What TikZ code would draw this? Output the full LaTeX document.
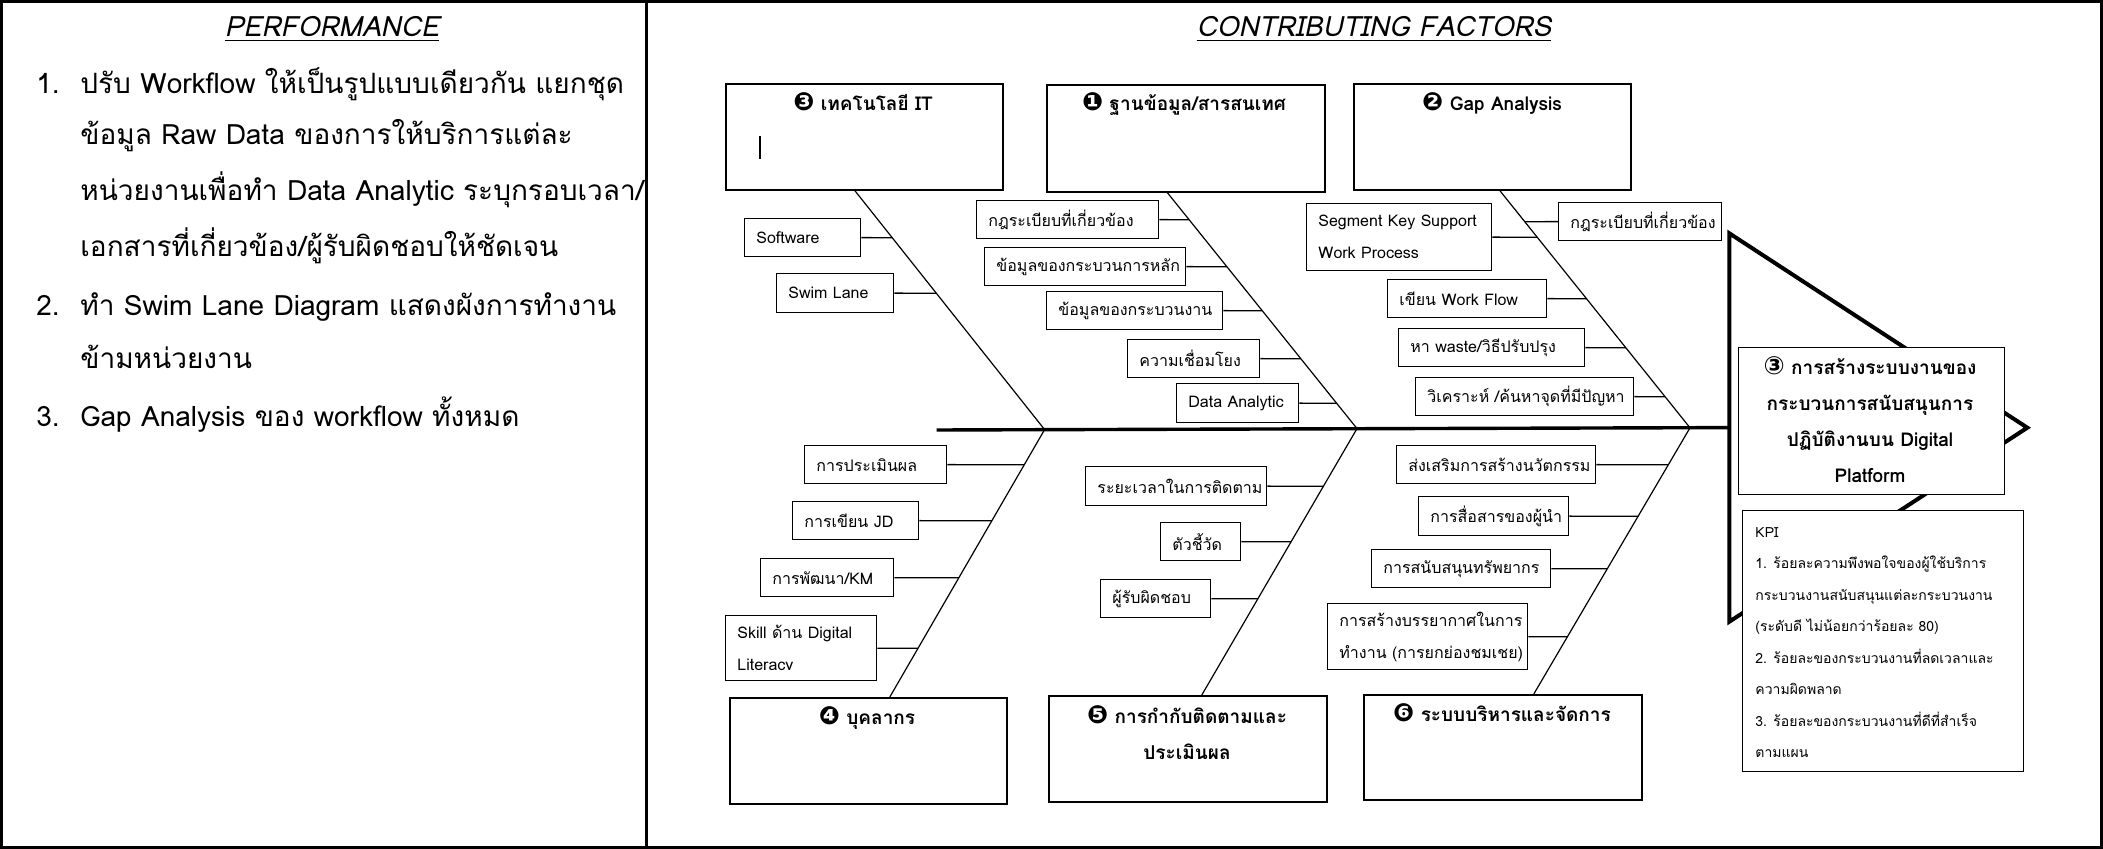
\documentclass[tikz,border=0pt]{standalone}
\usepackage{fontspec}
\setmainfont[Script=Thai]{Loma}
\newfontfamily\sym{DejaVu Sans}
\usetikzlibrary{calc}

\newcommand\cnum[1]{{\sym\fontsize{12.5}{12.5}\selectfont #1}}
\newcommand\mkbox[6]{%
  \pgfmathsetmacro\bw{(#4-#2)*0.5}%
  \pgfmathsetmacro\bh{(#5-#3)*0.5}%
  \node[subframe, minimum width=\bw pt, minimum height=\bh pt, anchor=north west] (#1) at (#2,#3) {};
  \node[subtext] (#1t) at ([xshift=6pt]#1.west) {#6};}
\newcommand\catbox[5]{%
  \pgfmathsetmacro\bw{(#4-#2)*0.5}%
  \pgfmathsetmacro\bh{(#5-#3)*0.5}%
  \node[catframe, minimum width=\bw pt, minimum height=\bh pt, anchor=north west] (#1) at (#2,#3) {};}

\begin{document}
\begin{tikzpicture}[x=0.5pt,y=-0.5pt,
  subframe/.style={draw, line width=0.7pt, fill=white, inner sep=0pt},
  subtext/.style={anchor=west, inner sep=0pt, align=left, font=\fontsize{8}{16}\selectfont},
  catframe/.style={draw, line width=0.8pt, fill=white, inner sep=0pt},
  cattitle/.style={font=\bfseries\fontsize{9.5}{18}\selectfont, anchor=base, inner sep=0pt, align=center},
  bone/.style={line width=0.6pt},
  conn/.style={line width=0.7pt},
  listtext/.style={font=\fontsize{14}{28}\selectfont, anchor=base west, inner sep=0pt},
  heading/.style={font=\itshape\fontsize{14}{28}\selectfont, anchor=base, inner sep=0pt},
  headline/.style={line width=2pt, line join=miter},
]
\useasboundingbox (0,0) rectangle (2103,849);
% frame
\draw[line width=1.5pt] (1.5,1.5) rectangle (2101.5,847.5);
\draw[line width=1.5pt] (646,0) -- (646,849);

% left panel
\node[heading] (perf) at (332,37) {\underline{PERFORMANCE}};
\node[listtext] (n1) at (36,94) {1.};
\node[listtext] (l1a) at (80,94) {ปรับ Workflow ให้เป็นรูปแบบเดียวกัน แยกชุด};
\node[listtext] (l1b) at (80,145) {ข้อมูล Raw Data ของการให้บริการแต่ละ};
\node[listtext] (l1c) at (80,201) {หน่วยงานเพื่อทำ Data Analytic ระบุกรอบเวลา/};
\node[listtext] (l1d) at (80,257) {เอกสารที่เกี่ยวข้อง/ผู้รับผิดชอบให้ชัดเจน};
\node[listtext] (n2) at (36,316) {2.};
\node[listtext] (l2a) at (80,316) {ทำ Swim Lane Diagram แสดงผังการทำงาน};
\node[listtext] (l2b) at (80,369) {ข้ามหน่วยงาน};
\node[listtext] (n3) at (36,427) {3.};
\node[listtext] (l3a) at (80,427) {Gap Analysis ของ workflow ทั้งหมด};

% right panel heading
\node[heading] (cf) at (1374,37) {\underline{CONTRIBUTING FACTORS}};

% head
\draw[headline] (1729.3,233.3) -- (2027.3,427.7) -- (1729.3,621.7) -- cycle;
% spine
\coordinate (spL) at (936.6,430);
\coordinate (spR) at (1729.3,427.6);
\coordinate (j1) at (1044.6,429.6);
\coordinate (j2) at (1357,428.6);
\coordinate (j3) at (1690,427.8);
\draw[line width=1.7pt] (spL) -- (spR);

% category boxes
\catbox{c3}{725}{83}{1002}{189}
\catbox{c1}{1046}{84}{1324}{191}
\catbox{c2}{1353}{83}{1630}{189}
\catbox{c4}{729}{697}{1006}{803}
\catbox{c5}{1048}{695}{1326}{801}
\catbox{c6}{1363}{694}{1641}{799}
\node[cattitle] (t3) at (863,111) {\cnum{❸} เทคโนโลยี IT};
\node[cattitle] (t1) at (1184,111) {\cnum{❶} ฐานข้อมูล/สารสนเทศ};
\node[cattitle] (t2) at (1492,111) {\cnum{❷} Gap Analysis};
\node[cattitle] (t4) at (867,724) {\cnum{❹} บุคลากร};
\node[cattitle] (t5) at (1187,759) {\cnum{❺} การกำกับติดตามและ\\ประเมินผล};
\node[cattitle] (t6) at (1502,721) {\cnum{❻} ระบบบริหารและจัดการ};
\draw[line width=0.6pt] (760,136) -- (760,159);

% bones
\coordinate (b3) at ([xshift=-4.75pt]c3.south);
\coordinate (b1) at ([xshift=-9.25pt]c1.south);
\coordinate (b2) at ([xshift=3.75pt]c2.south);
\coordinate (b4) at ([xshift=10.75pt]c4.north);
\coordinate (b5) at ([xshift=7pt]c5.north);
\coordinate (b6) at ([xshift=15.5pt]c6.north);
\draw[bone] (b3) -- (j1);
\draw[bone] (b1) -- (j2);
\draw[bone] (b2) -- (j3);
\draw[bone] (b4) -- (j1);
\draw[bone] (b5) -- (j2);
\draw[bone] (b6) -- (j3);

% sub boxes
\mkbox{s1}{744}{218}{860}{256}{Software}
\mkbox{s2}{776}{273}{893}{312}{Swim Lane}
\mkbox{a1}{976}{200}{1158}{238}{กฎระเบียบที่เกี่ยวข้อง}
\mkbox{a2}{984}{247}{1185}{285}{ข้อมูลของกระบวนการหลัก}
\mkbox{a3}{1046}{291}{1222}{329}{ข้อมูลของกระบวนงาน}
\mkbox{a4}{1127}{339}{1259}{377}{ความเชื่อมโยง}
\mkbox{a5}{1176}{383}{1298}{422}{Data Analytic}
\mkbox{g1}{1306}{203}{1491}{270}{Segment Key Support\\Work Process}
\mkbox{g2}{1558}{202}{1721}{240}{กฎระเบียบที่เกี่ยวข้อง}
\mkbox{g3}{1387}{279}{1546}{317}{เขียน Work Flow}
\mkbox{g4}{1398}{328}{1584}{366}{หา waste/วิธีปรับปรุง}
\mkbox{g5}{1415}{377}{1633}{415}{วิเคราะห์ /ค้นหาจุดที่มีปัญหา}
\mkbox{p1}{804}{445}{946}{483}{การประเมินผล}
\mkbox{p2}{792}{501}{918}{539}{การเขียน JD}
\mkbox{p3}{760}{558}{893}{596}{การพัฒนา/KM}
\mkbox{p4}{725}{615}{876}{680}{Skill ด้าน Digital\\Literacv}
\mkbox{m1}{1085}{466}{1266}{505}{ระยะเวลาในการติดตาม}
\mkbox{m2}{1160}{522}{1240}{560}{ตัวชี้วัด}
\mkbox{m3}{1100}{579}{1210}{617}{ผู้รับผิดชอบ}
\mkbox{r1}{1396}{445}{1595}{483}{ส่งเสริมการสร้างนวัตกรรม}
\mkbox{r2}{1418}{496}{1568}{535}{การสื่อสารของผู้นำ}
\mkbox{r3}{1371}{549}{1550}{587}{การสนับสนุนทรัพยากร}
\mkbox{r4}{1327}{603}{1527}{669}{การสร้างบรรยากาศในการ\\ทำงาน (การยกย่องชมเชย)}

% connectors
\foreach \s/\a/\b in {s1/b3/j1, s2/b3/j1, a1/b1/j2, a2/b1/j2, a3/b1/j2, a4/b1/j2, a5/b1/j2,
  g1/b2/j3, g3/b2/j3, g4/b2/j3, g5/b2/j3, p1/b4/j1, p2/b4/j1, p3/b4/j1, p4/b4/j1,
  m1/b5/j2, m2/b5/j2, m3/b5/j2, r1/b6/j3, r2/b6/j3, r3/b6/j3, r4/b6/j3}
  \draw[conn] (\s.east) -- (intersection of \s.east--\s.west and \a--\b);
\draw[conn] (g2.west) -- (intersection of g2.west--g2.east and b2--j3);

% head boxes
\node[draw, line width=0.7pt, fill=white, minimum width=133pt, minimum height=73.5pt, anchor=north west, inner sep=0pt] (goal) at (1738,347) {};
\node[cattitle, font=\bfseries\fontsize{9.5}{18}\selectfont] (goalt) at (1870,483) {\cnum{③} การสร้างระบบงานของ\\กระบวนการสนับสนุนการ\\ปฏิบัติงานบน Digital\\Platform};
\node[draw, line width=0.7pt, fill=white, minimum width=140.5pt, minimum height=130.5pt, anchor=north west, inner sep=0pt] (kpi) at (1742,510) {};
\node[anchor=base west, inner sep=0pt, align=left, font=\fontsize{7}{15.75}\selectfont] (kpit) at (1755,757.5) {KPI\\1. ร้อยละความพึงพอใจของผู้ใช้บริการ\\กระบวนงานสนับสนุนแต่ละกระบวนงาน\\(ระดับดี ไม่น้อยกว่าร้อยละ 80)\\2. ร้อยละของกระบวนงานที่ลดเวลาและ\\ความผิดพลาด\\3. ร้อยละของกระบวนงานที่ดีที่สำเร็จ\\ตามแผน};
\end{tikzpicture}
\end{document}
